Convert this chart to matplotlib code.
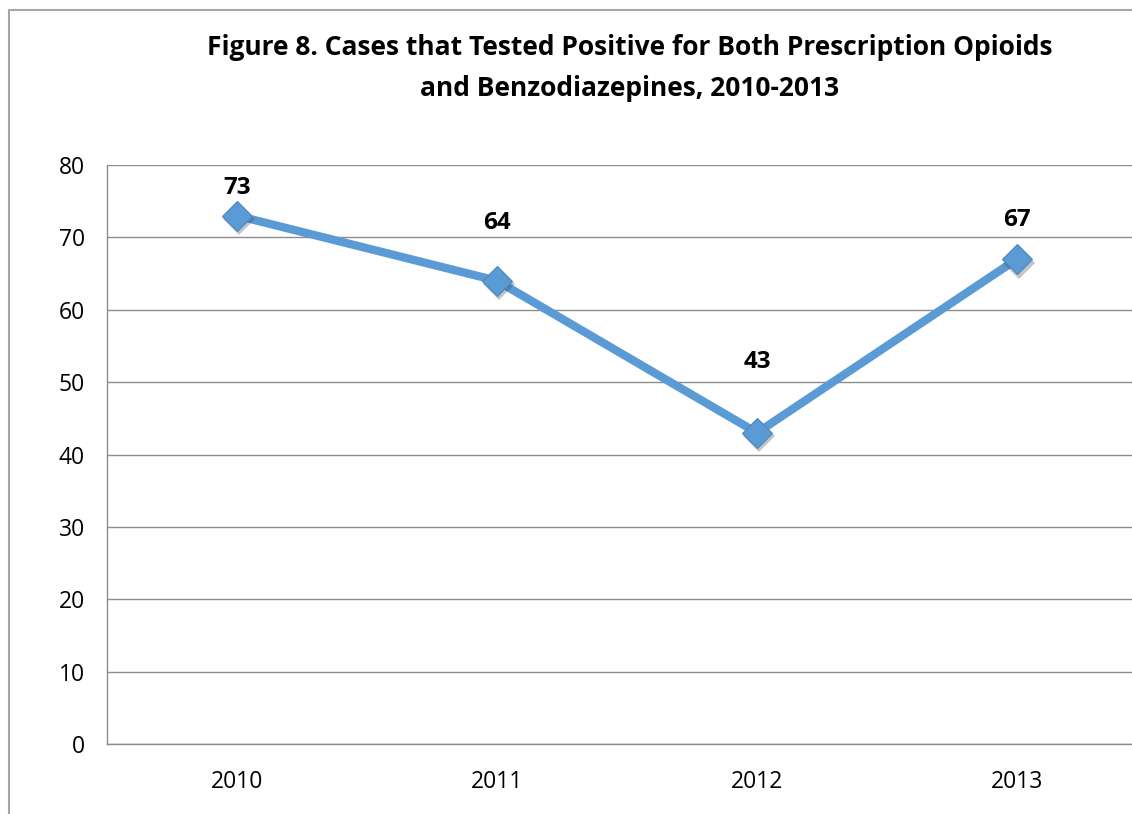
import matplotlib.pyplot as plt
import matplotlib.transforms as mtransforms
from matplotlib.patches import Rectangle

years = ["2010", "2011", "2012", "2013"]
cases = [73, 64, 43, 67]
y_ticks = [0, 10, 20, 30, 40, 50, 60, 70, 80]

# how far above each point its label sits (pixels), as placed in the original
label_offsets = [30, 60, 73, 41]

plt.rcParams['font.family'] = ['Open Sans', 'DejaVu Sans']

fig = plt.figure(figsize=(11.32, 8.14), dpi=100)

# chart frame (cropped at the right and bottom in the original)
fig.patches.append(Rectangle((9 / 1132, -0.1), 1.2, (814 - 10) / 814 + 0.1,
                             transform=fig.transFigure, fill=False,
                             edgecolor="#a6a6a6", linewidth=1.5))

ax = fig.add_axes([107 / 1132, 70 / 814, 1040 / 1132, 579 / 814])
x = range(len(years))

ax.plot(x, cases, color="#5B9BD5", linewidth=6, solid_capstyle="butt", zorder=3)
# soft shadow under the markers
shadow_tr = mtransforms.offset_copy(ax.transData, fig=fig, x=1.5, y=-2.5, units="points")
ax.plot(x, cases, linestyle="none", marker="D", markersize=16.5, color="#404040",
        alpha=0.3, markeredgewidth=0, transform=shadow_tr, zorder=3.5)
ax.plot(x, cases, linestyle="none", marker="D", markersize=15.5, color="#5B9BD5",
        markeredgecolor="#4a86c0", markeredgewidth=0.8, zorder=4)

for xi, v, off in zip(x, cases, label_offsets):
    ax.annotate(str(v), (xi, v), xytext=(0, off * 0.72 - 1.5), textcoords="offset points",
                ha="center", va="center", fontsize=17.5, fontweight="bold")

ax.set_xlim(-0.5, 3.5)
ax.set_ylim(0, 80)
ax.set_yticks(y_ticks)
ax.set_xticks(list(x))
ax.set_xticklabels(years)
ax.tick_params(axis="both", length=0, labelsize=16.5, colors="black")
ax.tick_params(axis="y", pad=16)
ax.tick_params(axis="x", pad=19)
ax.yaxis.grid(True, color="#8c8c8c", linewidth=1)
ax.set_axisbelow(True)
for s in ["top", "right"]:
    ax.spines[s].set_visible(False)
for s in ["left", "bottom"]:
    ax.spines[s].set_color("#8c8c8c")
    ax.spines[s].set_linewidth(1)

fig.text(630 / 1132, 1 - 68 / 814,
         "Figure 8. Cases that Tested Positive for Both Prescription Opioids\nand Benzodiazepines, 2010-2013",
         ha="center", va="center", fontsize=19, fontweight="bold", linespacing=1.62)

fig.savefig("out.png", dpi=100)
